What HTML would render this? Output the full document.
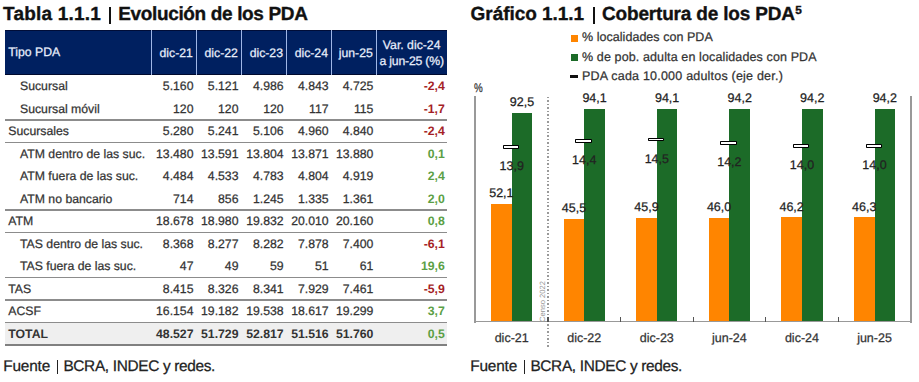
<!DOCTYPE html>
<html><head><meta charset="utf-8"><style>
html,body{margin:0;padding:0;background:#fff;}
body{width:919px;height:382px;position:relative;overflow:hidden;font-family:"Liberation Sans", sans-serif;text-rendering:geometricPrecision;}
.t{position:absolute;white-space:nowrap;-webkit-text-stroke:0.25px currentColor;}
.r{position:absolute;}
sup{font-size:11.8px;vertical-align:0;position:relative;top:-6.6px;margin-left:0.6px;}
</style></head><body>
<div class="t" style="top:5.42px;font-size:19px;line-height:19px;color:#111;font-weight:700;letter-spacing:0.2px;-webkit-text-stroke:0;left:3.00px;-webkit-text-stroke:0.35px #111;">Tabla 1.1.1</div>
<div class="r" style="left:108.90px;top:7.00px;width:2.40px;height:16.80px;background:#111;"></div>
<div class="t" style="top:5.42px;font-size:19px;line-height:19px;color:#111;font-weight:700;letter-spacing:-0.35px;-webkit-text-stroke:0;left:118.20px;-webkit-text-stroke:0.35px #111;">Evolución de los PDA</div>
<div class="t" style="top:5.42px;font-size:19px;line-height:19px;color:#111;font-weight:700;letter-spacing:-0.05px;-webkit-text-stroke:0;left:470.60px;-webkit-text-stroke:0.35px #111;">Gráfico 1.1.1</div>
<div class="r" style="left:592.90px;top:7.00px;width:2.40px;height:16.80px;background:#111;"></div>
<div class="t" style="top:5.42px;font-size:19px;line-height:19px;color:#111;font-weight:700;letter-spacing:-0.18px;-webkit-text-stroke:0;left:602.00px;-webkit-text-stroke:0.35px #111;">Cobertura de los PDA<sup>5</sup></div>
<div class="r" style="left:5.00px;top:29.50px;width:442.00px;height:45.50px;background:#002060;"></div>
<div class="r" style="left:5.00px;top:29.50px;width:442.00px;height:1.00px;background:#000d38;"></div>
<div class="r" style="left:5.00px;top:73.80px;width:442.00px;height:1.20px;background:#000a2e;"></div>
<div class="r" style="left:150.90px;top:29.50px;width:1.00px;height:45.50px;background:#9fb6e6;"></div>
<div class="r" style="left:195.90px;top:29.50px;width:1.00px;height:45.50px;background:#9fb6e6;"></div>
<div class="r" style="left:240.90px;top:29.50px;width:1.00px;height:45.50px;background:#9fb6e6;"></div>
<div class="r" style="left:286.00px;top:29.50px;width:1.00px;height:45.50px;background:#9fb6e6;"></div>
<div class="r" style="left:331.00px;top:29.50px;width:1.00px;height:45.50px;background:#9fb6e6;"></div>
<div class="r" style="left:375.80px;top:29.50px;width:1.00px;height:45.50px;background:#9fb6e6;"></div>
<div class="t" style="top:46.33px;font-size:12.25px;line-height:12.25px;color:#e8eefc;font-weight:400;left:8.30px;">Tipo PDA</div>
<div class="t" style="top:46.53px;font-size:12.25px;line-height:12.25px;color:#e8eefc;font-weight:400;right:726.10px;text-align:right;">dic-21</div>
<div class="t" style="top:46.53px;font-size:12.25px;line-height:12.25px;color:#e8eefc;font-weight:400;right:681.10px;text-align:right;">dic-22</div>
<div class="t" style="top:46.53px;font-size:12.25px;line-height:12.25px;color:#e8eefc;font-weight:400;right:636.00px;text-align:right;">dic-23</div>
<div class="t" style="top:46.53px;font-size:12.25px;line-height:12.25px;color:#e8eefc;font-weight:400;right:591.00px;text-align:right;">dic-24</div>
<div class="t" style="top:46.53px;font-size:12.25px;line-height:12.25px;color:#e8eefc;font-weight:400;right:546.20px;text-align:right;">jun-25</div>
<div class="t" style="top:38.63px;font-size:12.25px;line-height:12.25px;color:#e8eefc;font-weight:400;left:376.65px;width:70px;text-align:center;">Var. dic-24</div>
<div class="t" style="top:54.63px;font-size:12.25px;line-height:12.25px;color:#e8eefc;font-weight:400;letter-spacing:-0.2px;left:376.65px;width:70px;text-align:center;">a jun-25 (%)</div>
<div class="t" style="top:80.33px;font-size:12.25px;line-height:12.25px;color:#333333;font-weight:400;left:20.00px;">Sucursal</div>
<div class="t" style="top:80.33px;font-size:12.25px;line-height:12.25px;color:#333333;font-weight:400;right:725.50px;text-align:right;">5.160</div>
<div class="t" style="top:80.33px;font-size:12.25px;line-height:12.25px;color:#333333;font-weight:400;right:680.50px;text-align:right;">5.121</div>
<div class="t" style="top:80.33px;font-size:12.25px;line-height:12.25px;color:#333333;font-weight:400;right:635.40px;text-align:right;">4.986</div>
<div class="t" style="top:80.33px;font-size:12.25px;line-height:12.25px;color:#333333;font-weight:400;right:590.40px;text-align:right;">4.843</div>
<div class="t" style="top:80.33px;font-size:12.25px;line-height:12.25px;color:#333333;font-weight:400;right:545.60px;text-align:right;">4.725</div>
<div class="t" style="top:80.33px;font-size:12.25px;line-height:12.25px;color:#a51e26;font-weight:700;-webkit-text-stroke:0;right:474.20px;text-align:right;">-2,4</div>
<div class="t" style="top:102.83px;font-size:12.25px;line-height:12.25px;color:#333333;font-weight:400;left:20.00px;">Sucursal móvil</div>
<div class="t" style="top:102.83px;font-size:12.25px;line-height:12.25px;color:#333333;font-weight:400;right:725.50px;text-align:right;">120</div>
<div class="t" style="top:102.83px;font-size:12.25px;line-height:12.25px;color:#333333;font-weight:400;right:680.50px;text-align:right;">120</div>
<div class="t" style="top:102.83px;font-size:12.25px;line-height:12.25px;color:#333333;font-weight:400;right:635.40px;text-align:right;">120</div>
<div class="t" style="top:102.83px;font-size:12.25px;line-height:12.25px;color:#333333;font-weight:400;right:590.40px;text-align:right;">117</div>
<div class="t" style="top:102.83px;font-size:12.25px;line-height:12.25px;color:#333333;font-weight:400;right:545.60px;text-align:right;">115</div>
<div class="t" style="top:102.83px;font-size:12.25px;line-height:12.25px;color:#a51e26;font-weight:700;-webkit-text-stroke:0;right:474.20px;text-align:right;">-1,7</div>
<div class="r" style="left:5.00px;top:119.25px;width:442.00px;height:1.50px;background:#8c8c8c;"></div>
<div class="t" style="top:125.33px;font-size:12.25px;line-height:12.25px;color:#333333;font-weight:400;left:8.30px;">Sucursales</div>
<div class="t" style="top:125.33px;font-size:12.25px;line-height:12.25px;color:#333333;font-weight:400;right:725.50px;text-align:right;">5.280</div>
<div class="t" style="top:125.33px;font-size:12.25px;line-height:12.25px;color:#333333;font-weight:400;right:680.50px;text-align:right;">5.241</div>
<div class="t" style="top:125.33px;font-size:12.25px;line-height:12.25px;color:#333333;font-weight:400;right:635.40px;text-align:right;">5.106</div>
<div class="t" style="top:125.33px;font-size:12.25px;line-height:12.25px;color:#333333;font-weight:400;right:590.40px;text-align:right;">4.960</div>
<div class="t" style="top:125.33px;font-size:12.25px;line-height:12.25px;color:#333333;font-weight:400;right:545.60px;text-align:right;">4.840</div>
<div class="t" style="top:125.33px;font-size:12.25px;line-height:12.25px;color:#a51e26;font-weight:700;-webkit-text-stroke:0;right:474.20px;text-align:right;">-2,4</div>
<div class="r" style="left:5.00px;top:141.75px;width:442.00px;height:1.50px;background:#8c8c8c;"></div>
<div class="t" style="top:147.83px;font-size:12.25px;line-height:12.25px;color:#333333;font-weight:400;left:20.00px;">ATM dentro de las suc.</div>
<div class="t" style="top:147.83px;font-size:12.25px;line-height:12.25px;color:#333333;font-weight:400;right:725.50px;text-align:right;">13.480</div>
<div class="t" style="top:147.83px;font-size:12.25px;line-height:12.25px;color:#333333;font-weight:400;right:680.50px;text-align:right;">13.591</div>
<div class="t" style="top:147.83px;font-size:12.25px;line-height:12.25px;color:#333333;font-weight:400;right:635.40px;text-align:right;">13.804</div>
<div class="t" style="top:147.83px;font-size:12.25px;line-height:12.25px;color:#333333;font-weight:400;right:590.40px;text-align:right;">13.871</div>
<div class="t" style="top:147.83px;font-size:12.25px;line-height:12.25px;color:#333333;font-weight:400;right:545.60px;text-align:right;">13.880</div>
<div class="t" style="top:147.83px;font-size:12.25px;line-height:12.25px;color:#5b9f45;font-weight:700;-webkit-text-stroke:0;right:474.20px;text-align:right;">0,1</div>
<div class="t" style="top:170.33px;font-size:12.25px;line-height:12.25px;color:#333333;font-weight:400;left:20.00px;">ATM fuera de las suc.</div>
<div class="t" style="top:170.33px;font-size:12.25px;line-height:12.25px;color:#333333;font-weight:400;right:725.50px;text-align:right;">4.484</div>
<div class="t" style="top:170.33px;font-size:12.25px;line-height:12.25px;color:#333333;font-weight:400;right:680.50px;text-align:right;">4.533</div>
<div class="t" style="top:170.33px;font-size:12.25px;line-height:12.25px;color:#333333;font-weight:400;right:635.40px;text-align:right;">4.783</div>
<div class="t" style="top:170.33px;font-size:12.25px;line-height:12.25px;color:#333333;font-weight:400;right:590.40px;text-align:right;">4.804</div>
<div class="t" style="top:170.33px;font-size:12.25px;line-height:12.25px;color:#333333;font-weight:400;right:545.60px;text-align:right;">4.919</div>
<div class="t" style="top:170.33px;font-size:12.25px;line-height:12.25px;color:#5b9f45;font-weight:700;-webkit-text-stroke:0;right:474.20px;text-align:right;">2,4</div>
<div class="t" style="top:192.83px;font-size:12.25px;line-height:12.25px;color:#333333;font-weight:400;left:20.00px;">ATM no bancario</div>
<div class="t" style="top:192.83px;font-size:12.25px;line-height:12.25px;color:#333333;font-weight:400;right:725.50px;text-align:right;">714</div>
<div class="t" style="top:192.83px;font-size:12.25px;line-height:12.25px;color:#333333;font-weight:400;right:680.50px;text-align:right;">856</div>
<div class="t" style="top:192.83px;font-size:12.25px;line-height:12.25px;color:#333333;font-weight:400;right:635.40px;text-align:right;">1.245</div>
<div class="t" style="top:192.83px;font-size:12.25px;line-height:12.25px;color:#333333;font-weight:400;right:590.40px;text-align:right;">1.335</div>
<div class="t" style="top:192.83px;font-size:12.25px;line-height:12.25px;color:#333333;font-weight:400;right:545.60px;text-align:right;">1.361</div>
<div class="t" style="top:192.83px;font-size:12.25px;line-height:12.25px;color:#5b9f45;font-weight:700;-webkit-text-stroke:0;right:474.20px;text-align:right;">2,0</div>
<div class="r" style="left:5.00px;top:209.25px;width:442.00px;height:1.50px;background:#8c8c8c;"></div>
<div class="t" style="top:215.33px;font-size:12.25px;line-height:12.25px;color:#333333;font-weight:400;left:8.30px;">ATM</div>
<div class="t" style="top:215.33px;font-size:12.25px;line-height:12.25px;color:#333333;font-weight:400;right:725.50px;text-align:right;">18.678</div>
<div class="t" style="top:215.33px;font-size:12.25px;line-height:12.25px;color:#333333;font-weight:400;right:680.50px;text-align:right;">18.980</div>
<div class="t" style="top:215.33px;font-size:12.25px;line-height:12.25px;color:#333333;font-weight:400;right:635.40px;text-align:right;">19.832</div>
<div class="t" style="top:215.33px;font-size:12.25px;line-height:12.25px;color:#333333;font-weight:400;right:590.40px;text-align:right;">20.010</div>
<div class="t" style="top:215.33px;font-size:12.25px;line-height:12.25px;color:#333333;font-weight:400;right:545.60px;text-align:right;">20.160</div>
<div class="t" style="top:215.33px;font-size:12.25px;line-height:12.25px;color:#5b9f45;font-weight:700;-webkit-text-stroke:0;right:474.20px;text-align:right;">0,8</div>
<div class="r" style="left:5.00px;top:231.75px;width:442.00px;height:1.50px;background:#8c8c8c;"></div>
<div class="t" style="top:237.83px;font-size:12.25px;line-height:12.25px;color:#333333;font-weight:400;left:20.00px;">TAS dentro de las suc.</div>
<div class="t" style="top:237.83px;font-size:12.25px;line-height:12.25px;color:#333333;font-weight:400;right:725.50px;text-align:right;">8.368</div>
<div class="t" style="top:237.83px;font-size:12.25px;line-height:12.25px;color:#333333;font-weight:400;right:680.50px;text-align:right;">8.277</div>
<div class="t" style="top:237.83px;font-size:12.25px;line-height:12.25px;color:#333333;font-weight:400;right:635.40px;text-align:right;">8.282</div>
<div class="t" style="top:237.83px;font-size:12.25px;line-height:12.25px;color:#333333;font-weight:400;right:590.40px;text-align:right;">7.878</div>
<div class="t" style="top:237.83px;font-size:12.25px;line-height:12.25px;color:#333333;font-weight:400;right:545.60px;text-align:right;">7.400</div>
<div class="t" style="top:237.83px;font-size:12.25px;line-height:12.25px;color:#a51e26;font-weight:700;-webkit-text-stroke:0;right:474.20px;text-align:right;">-6,1</div>
<div class="t" style="top:260.33px;font-size:12.25px;line-height:12.25px;color:#333333;font-weight:400;left:20.00px;">TAS fuera de las suc.</div>
<div class="t" style="top:260.33px;font-size:12.25px;line-height:12.25px;color:#333333;font-weight:400;right:725.50px;text-align:right;">47</div>
<div class="t" style="top:260.33px;font-size:12.25px;line-height:12.25px;color:#333333;font-weight:400;right:680.50px;text-align:right;">49</div>
<div class="t" style="top:260.33px;font-size:12.25px;line-height:12.25px;color:#333333;font-weight:400;right:635.40px;text-align:right;">59</div>
<div class="t" style="top:260.33px;font-size:12.25px;line-height:12.25px;color:#333333;font-weight:400;right:590.40px;text-align:right;">51</div>
<div class="t" style="top:260.33px;font-size:12.25px;line-height:12.25px;color:#333333;font-weight:400;right:545.60px;text-align:right;">61</div>
<div class="t" style="top:260.33px;font-size:12.25px;line-height:12.25px;color:#5b9f45;font-weight:700;-webkit-text-stroke:0;right:474.20px;text-align:right;">19,6</div>
<div class="r" style="left:5.00px;top:276.75px;width:442.00px;height:1.50px;background:#8c8c8c;"></div>
<div class="t" style="top:282.83px;font-size:12.25px;line-height:12.25px;color:#333333;font-weight:400;left:8.30px;">TAS</div>
<div class="t" style="top:282.83px;font-size:12.25px;line-height:12.25px;color:#333333;font-weight:400;right:725.50px;text-align:right;">8.415</div>
<div class="t" style="top:282.83px;font-size:12.25px;line-height:12.25px;color:#333333;font-weight:400;right:680.50px;text-align:right;">8.326</div>
<div class="t" style="top:282.83px;font-size:12.25px;line-height:12.25px;color:#333333;font-weight:400;right:635.40px;text-align:right;">8.341</div>
<div class="t" style="top:282.83px;font-size:12.25px;line-height:12.25px;color:#333333;font-weight:400;right:590.40px;text-align:right;">7.929</div>
<div class="t" style="top:282.83px;font-size:12.25px;line-height:12.25px;color:#333333;font-weight:400;right:545.60px;text-align:right;">7.461</div>
<div class="t" style="top:282.83px;font-size:12.25px;line-height:12.25px;color:#a51e26;font-weight:700;-webkit-text-stroke:0;right:474.20px;text-align:right;">-5,9</div>
<div class="r" style="left:5.00px;top:299.25px;width:442.00px;height:1.50px;background:#8c8c8c;"></div>
<div class="t" style="top:305.33px;font-size:12.25px;line-height:12.25px;color:#333333;font-weight:400;left:8.30px;">ACSF</div>
<div class="t" style="top:305.33px;font-size:12.25px;line-height:12.25px;color:#333333;font-weight:400;right:725.50px;text-align:right;">16.154</div>
<div class="t" style="top:305.33px;font-size:12.25px;line-height:12.25px;color:#333333;font-weight:400;right:680.50px;text-align:right;">19.182</div>
<div class="t" style="top:305.33px;font-size:12.25px;line-height:12.25px;color:#333333;font-weight:400;right:635.40px;text-align:right;">19.538</div>
<div class="t" style="top:305.33px;font-size:12.25px;line-height:12.25px;color:#333333;font-weight:400;right:590.40px;text-align:right;">18.617</div>
<div class="t" style="top:305.33px;font-size:12.25px;line-height:12.25px;color:#333333;font-weight:400;right:545.60px;text-align:right;">19.299</div>
<div class="t" style="top:305.33px;font-size:12.25px;line-height:12.25px;color:#5b9f45;font-weight:700;-webkit-text-stroke:0;right:474.20px;text-align:right;">3,7</div>
<div class="r" style="left:5.00px;top:321.75px;width:442.00px;height:1.50px;background:#8c8c8c;"></div>
<div class="r" style="left:5.00px;top:322.50px;width:442.00px;height:22.50px;background:#efefef;"></div>
<div class="t" style="top:327.83px;font-size:12.25px;line-height:12.25px;color:#333333;font-weight:700;-webkit-text-stroke:0;left:8.30px;">TOTAL</div>
<div class="t" style="top:327.83px;font-size:12.25px;line-height:12.25px;color:#333333;font-weight:700;-webkit-text-stroke:0;right:725.50px;text-align:right;">48.527</div>
<div class="t" style="top:327.83px;font-size:12.25px;line-height:12.25px;color:#333333;font-weight:700;-webkit-text-stroke:0;right:680.50px;text-align:right;">51.729</div>
<div class="t" style="top:327.83px;font-size:12.25px;line-height:12.25px;color:#333333;font-weight:700;-webkit-text-stroke:0;right:635.40px;text-align:right;">52.817</div>
<div class="t" style="top:327.83px;font-size:12.25px;line-height:12.25px;color:#333333;font-weight:700;-webkit-text-stroke:0;right:590.40px;text-align:right;">51.516</div>
<div class="t" style="top:327.83px;font-size:12.25px;line-height:12.25px;color:#333333;font-weight:700;-webkit-text-stroke:0;right:545.60px;text-align:right;">51.760</div>
<div class="t" style="top:327.83px;font-size:12.25px;line-height:12.25px;color:#5b9f45;font-weight:700;-webkit-text-stroke:0;right:474.20px;text-align:right;">0,5</div>
<div class="r" style="left:5.00px;top:321.75px;width:442.00px;height:1.50px;background:#8c8c8c;"></div>
<div class="r" style="left:5.00px;top:344.40px;width:442.00px;height:1.70px;background:#808080;"></div>
<div class="t" style="top:358.56px;font-size:15.4px;line-height:15.4px;color:#222;font-weight:400;letter-spacing:-0.2px;left:3.30px;">Fuente</div>
<div class="r" style="left:56.60px;top:360.00px;width:1.40px;height:14.20px;background:#222;"></div>
<div class="t" style="top:358.56px;font-size:15.4px;line-height:15.4px;color:#222;font-weight:400;letter-spacing:-0.33px;left:63.40px;">BCRA, INDEC y redes.</div>
<div class="t" style="top:358.56px;font-size:15.4px;line-height:15.4px;color:#222;font-weight:400;letter-spacing:-0.2px;left:470.30px;">Fuente</div>
<div class="r" style="left:523.60px;top:360.00px;width:1.40px;height:14.20px;background:#222;"></div>
<div class="t" style="top:358.56px;font-size:15.4px;line-height:15.4px;color:#222;font-weight:400;letter-spacing:-0.33px;left:530.40px;">BCRA, INDEC y redes.</div>
<div class="r" style="left:571.00px;top:35.20px;width:7.00px;height:6.60px;background:#ff8500;"></div>
<div class="r" style="left:571.00px;top:54.20px;width:7.00px;height:6.60px;background:#1c6b28;"></div>
<div class="r" style="left:569.50px;top:75.40px;width:8.50px;height:2.20px;background:#111;"></div>
<div class="t" style="top:31.32px;font-size:12.5px;line-height:12.5px;color:#333;font-weight:400;letter-spacing:0.04px;left:582.00px;">% localidades con PDA</div>
<div class="t" style="top:51.02px;font-size:12.5px;line-height:12.5px;color:#333;font-weight:400;letter-spacing:0.12px;left:582.00px;">% de pob. adulta en localidades con PDA</div>
<div class="t" style="top:70.32px;font-size:12.5px;line-height:12.5px;color:#333;font-weight:400;letter-spacing:0.21px;left:582.00px;">PDA cada 10.000 adultos (eje der.)</div>
<div class="t" style="top:81.73px;font-size:12.6px;line-height:12.6px;color:#333;font-weight:400;left:474.00px;transform:scaleX(0.78);transform-origin:0 0;">%</div>
<div class="r" style="left:547.48px;top:96.5px;width:1.2px;height:250px;background:repeating-linear-gradient(to bottom,#999 0 1.5px,transparent 1.5px 3.5px);"></div>
<div class="t" style="left:522.98px;top:298px;width:40px;height:8px;font-size:7.6px;line-height:8px;color:#959595;-webkit-text-stroke:0;text-align:center;transform:rotate(-90deg);">Censo 2022</div>
<div class="r" style="left:491.10px;top:204.06px;width:21.60px;height:117.54px;background:#ff8500;"></div>
<div class="r" style="left:511.70px;top:112.92px;width:20.60px;height:208.68px;background:#1c6b28;"></div>
<div class="r" style="left:563.66px;top:218.95px;width:21.60px;height:102.65px;background:#ff8500;"></div>
<div class="r" style="left:584.26px;top:109.31px;width:20.60px;height:212.29px;background:#1c6b28;"></div>
<div class="r" style="left:636.22px;top:218.05px;width:21.60px;height:103.55px;background:#ff8500;"></div>
<div class="r" style="left:656.82px;top:109.31px;width:20.60px;height:212.29px;background:#1c6b28;"></div>
<div class="r" style="left:708.78px;top:217.82px;width:21.60px;height:103.78px;background:#ff8500;"></div>
<div class="r" style="left:729.38px;top:109.08px;width:20.60px;height:212.52px;background:#1c6b28;"></div>
<div class="r" style="left:781.34px;top:217.37px;width:21.60px;height:104.23px;background:#ff8500;"></div>
<div class="r" style="left:801.94px;top:109.08px;width:20.60px;height:212.52px;background:#1c6b28;"></div>
<div class="r" style="left:853.90px;top:217.15px;width:21.60px;height:104.45px;background:#ff8500;"></div>
<div class="r" style="left:874.50px;top:109.08px;width:20.60px;height:212.52px;background:#1c6b28;"></div>
<div class="t" style="top:187.48px;font-size:12.5px;line-height:12.5px;color:#222;font-weight:400;left:481.40px;width:40px;text-align:center;">52,1</div>
<div class="t" style="top:95.64px;font-size:12.5px;line-height:12.5px;color:#222;font-weight:400;left:502.00px;width:40px;text-align:center;">92,5</div>
<div class="r" style="left:502.70px;top:145.19px;width:14.4px;height:1.6px;background:#fff;border:1.3px solid #000;border-radius:0.8px;"></div>
<div class="t" style="top:160.11px;font-size:12.5px;line-height:12.5px;color:#222;font-weight:400;left:491.70px;width:40px;text-align:center;">13,9</div>
<div class="t" style="top:332.12px;font-size:12.5px;line-height:12.5px;color:#333;font-weight:400;left:481.70px;width:60px;text-align:center;">dic-21</div>
<div class="t" style="top:202.37px;font-size:12.5px;line-height:12.5px;color:#222;font-weight:400;left:553.96px;width:40px;text-align:center;">45,5</div>
<div class="t" style="top:92.03px;font-size:12.5px;line-height:12.5px;color:#222;font-weight:400;left:574.56px;width:40px;text-align:center;">94,1</div>
<div class="r" style="left:575.26px;top:138.92px;width:14.4px;height:1.6px;background:#fff;border:1.3px solid #000;border-radius:0.8px;"></div>
<div class="t" style="top:153.84px;font-size:12.5px;line-height:12.5px;color:#222;font-weight:400;left:564.26px;width:40px;text-align:center;">14,4</div>
<div class="t" style="top:332.12px;font-size:12.5px;line-height:12.5px;color:#333;font-weight:400;left:554.26px;width:60px;text-align:center;">dic-22</div>
<div class="t" style="top:201.47px;font-size:12.5px;line-height:12.5px;color:#222;font-weight:400;left:626.52px;width:40px;text-align:center;">45,9</div>
<div class="t" style="top:92.03px;font-size:12.5px;line-height:12.5px;color:#222;font-weight:400;left:647.12px;width:40px;text-align:center;">94,1</div>
<div class="r" style="left:647.82px;top:137.67px;width:14.4px;height:1.6px;background:#fff;border:1.3px solid #000;border-radius:0.8px;"></div>
<div class="t" style="top:152.59px;font-size:12.5px;line-height:12.5px;color:#222;font-weight:400;left:636.82px;width:40px;text-align:center;">14,5</div>
<div class="t" style="top:332.12px;font-size:12.5px;line-height:12.5px;color:#333;font-weight:400;left:626.82px;width:60px;text-align:center;">dic-23</div>
<div class="t" style="top:201.24px;font-size:12.5px;line-height:12.5px;color:#222;font-weight:400;left:699.08px;width:40px;text-align:center;">46,0</div>
<div class="t" style="top:91.80px;font-size:12.5px;line-height:12.5px;color:#222;font-weight:400;left:719.68px;width:40px;text-align:center;">94,2</div>
<div class="r" style="left:720.38px;top:141.43px;width:14.4px;height:1.6px;background:#fff;border:1.3px solid #000;border-radius:0.8px;"></div>
<div class="t" style="top:156.35px;font-size:12.5px;line-height:12.5px;color:#222;font-weight:400;left:709.38px;width:40px;text-align:center;">14,2</div>
<div class="t" style="top:332.12px;font-size:12.5px;line-height:12.5px;color:#333;font-weight:400;left:699.38px;width:60px;text-align:center;">jun-24</div>
<div class="t" style="top:200.79px;font-size:12.5px;line-height:12.5px;color:#222;font-weight:400;left:771.64px;width:40px;text-align:center;">46,2</div>
<div class="t" style="top:91.80px;font-size:12.5px;line-height:12.5px;color:#222;font-weight:400;left:792.24px;width:40px;text-align:center;">94,2</div>
<div class="r" style="left:792.94px;top:143.93px;width:14.4px;height:1.6px;background:#fff;border:1.3px solid #000;border-radius:0.8px;"></div>
<div class="t" style="top:158.85px;font-size:12.5px;line-height:12.5px;color:#222;font-weight:400;left:781.94px;width:40px;text-align:center;">14,0</div>
<div class="t" style="top:332.12px;font-size:12.5px;line-height:12.5px;color:#333;font-weight:400;left:771.94px;width:60px;text-align:center;">dic-24</div>
<div class="t" style="top:200.57px;font-size:12.5px;line-height:12.5px;color:#222;font-weight:400;left:844.20px;width:40px;text-align:center;">46,3</div>
<div class="t" style="top:91.80px;font-size:12.5px;line-height:12.5px;color:#222;font-weight:400;left:864.80px;width:40px;text-align:center;">94,2</div>
<div class="r" style="left:865.50px;top:143.93px;width:14.4px;height:1.6px;background:#fff;border:1.3px solid #000;border-radius:0.8px;"></div>
<div class="t" style="top:158.85px;font-size:12.5px;line-height:12.5px;color:#222;font-weight:400;left:854.50px;width:40px;text-align:center;">14,0</div>
<div class="t" style="top:332.12px;font-size:12.5px;line-height:12.5px;color:#333;font-weight:400;left:844.50px;width:60px;text-align:center;">jun-25</div>
<div class="r" style="left:474.10px;top:96.00px;width:1.80px;height:226.50px;background:#999999;"></div>
<div class="r" style="left:910.40px;top:96.00px;width:1.80px;height:226.50px;background:#999999;"></div>
<div class="r" style="left:474.10px;top:320.70px;width:438.10px;height:1.80px;background:#999999;"></div>
<div class="r" style="left:547.38px;top:317.20px;width:1.20px;height:4.40px;background:#555;"></div>
<div class="r" style="left:619.94px;top:317.20px;width:1.20px;height:4.40px;background:#555;"></div>
<div class="r" style="left:692.50px;top:317.20px;width:1.20px;height:4.40px;background:#555;"></div>
<div class="r" style="left:765.06px;top:317.20px;width:1.20px;height:4.40px;background:#555;"></div>
<div class="r" style="left:837.62px;top:317.20px;width:1.20px;height:4.40px;background:#555;"></div>
</body></html>
